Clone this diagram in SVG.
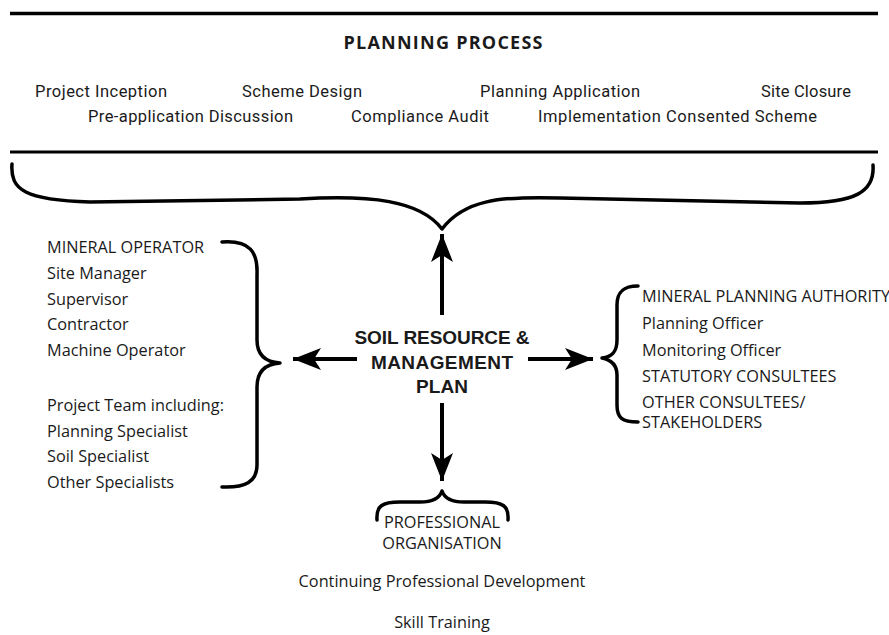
<svg xmlns="http://www.w3.org/2000/svg" width="889" height="635" viewBox="0 0 889 635">
<style>
text{font-family:"Open Sans","Noto Sans","Liberation Sans",sans-serif;fill:#1a1a1a}
.t{font-family:Roboto,"Open Sans",sans-serif;font-size:16.5px}
.l{font-size:16.3px}
.b{font-weight:bold}
.c{text-anchor:middle}
.m{font-family:"Liberation Sans",Arial,sans-serif;font-size:19px;font-weight:bold}
.brace{fill:none;stroke:#000;stroke-width:3.5;stroke-linecap:round;stroke-linejoin:round}
.rule{stroke:#000;fill:none}
.shaft{stroke:#000;stroke-width:4;fill:none}
</style>
<defs>
<marker id="ah" markerUnits="userSpaceOnUse" markerWidth="30" markerHeight="24" viewBox="0 -12 30 24" refX="28" refY="0" orient="auto">
<path d="M0,-11 L28,0 L0,11 L7,0 Z" fill="#000"/>
</marker>
</defs>
<rect width="889" height="635" fill="#fff"/>
<g id="planning-process">
<line class="rule" x1="10" y1="13.5" x2="878" y2="13.5" stroke-width="3.5"/>
<text class="b c" style="font-size:18px" x="443" y="49" textLength="199">PLANNING PROCESS</text>
<text class="t" x="35" y="97" textLength="132">Project Inception</text>
<text class="t" x="242" y="97" textLength="120">Scheme Design</text>
<text class="t" x="480" y="97" textLength="160">Planning Application</text>
<text class="t" x="761" y="97" textLength="90">Site Closure</text>
<text class="t" x="88" y="122" textLength="205">Pre-application Discussion</text>
<text class="t" x="351" y="122" textLength="138">Compliance Audit</text>
<text class="t" x="538" y="122" textLength="279">Implementation Consented Scheme</text>
<line class="rule" x1="10" y1="152" x2="878" y2="152" stroke-width="3"/>
<path class="brace" d="M12,164 C10,190 25,200 90,202 L300,199 C370,195 420,200 442,229 C464,200 500,196 560,198 L800,203 C855,203 875,192 873,165"/>
</g>
<g id="center">
<text class="m c" x="442" y="344" textLength="175">SOIL RESOURCE &amp;</text>
<text class="m c" x="442" y="368.5" textLength="142">MANAGEMENT</text>
<text class="m c" x="442" y="393" textLength="52">PLAN</text>
</g>
<g id="mineral-operator">
<text class="l" x="47" y="253">MINERAL OPERATOR</text>
<text class="l" x="47" y="279">Site Manager</text>
<text class="l" x="47" y="305">Supervisor</text>
<text class="l" x="47" y="330">Contractor</text>
<text class="l" x="47" y="356">Machine Operator</text>
<text class="l" x="47" y="411">Project Team including:</text>
<text class="l" x="47" y="437">Planning Specialist</text>
<text class="l" x="47" y="462">Soil Specialist</text>
<text class="l" x="47" y="488">Other Specialists</text>
<path class="brace" d="M222,242 C250,240 258,252 257,275 L257,340 C257,355 265,362 280,363 C265,364 257,372 257,387 L257,465 C257,482 245,488 222,487"/>
</g>
<g id="mineral-planning-authority">
<text class="l" x="642" y="302">MINERAL PLANNING AUTHORITY</text>
<text class="l" x="642" y="329">Planning Officer</text>
<text class="l" x="642" y="356">Monitoring Officer</text>
<text class="l" x="642" y="382">STATUTORY CONSULTEES</text>
<text class="l" x="642" y="408">OTHER CONSULTEES/</text>
<text class="l" x="642" y="428">STAKEHOLDERS</text>
<path class="brace" d="M638,286 C622,286 617,293 617,305 L617,340 C617,352 612,357 602,358 C612,360 617,365 617,375 L617,405 C617,418 622,422 638,422"/>
</g>
<g id="professional-organisation">
<path class="brace" d="M377,520 C376,506 382,502 400,502 L420,502 C434,502 440,497 442,491 C444,497 450,502 464,502 L485,502 C503,502 509,506 508,520"/>
<text class="l c" x="442" y="528">PROFESSIONAL</text>
<text class="l c" x="442" y="549">ORGANISATION</text>
<text class="l c" x="442" y="587">Continuing Professional Development</text>
<text class="l c" x="442" y="628">Skill Training</text>
</g>
<g id="connectors">
<line class="shaft" x1="442" y1="315" x2="442" y2="234" marker-end="url(#ah)"/>
<line class="shaft" x1="357" y1="359" x2="293" y2="359" marker-end="url(#ah)"/>
<line class="shaft" x1="528" y1="359" x2="593" y2="359" marker-end="url(#ah)"/>
<line class="shaft" x1="442" y1="403" x2="442" y2="481" marker-end="url(#ah)"/>
</g>
</svg>
